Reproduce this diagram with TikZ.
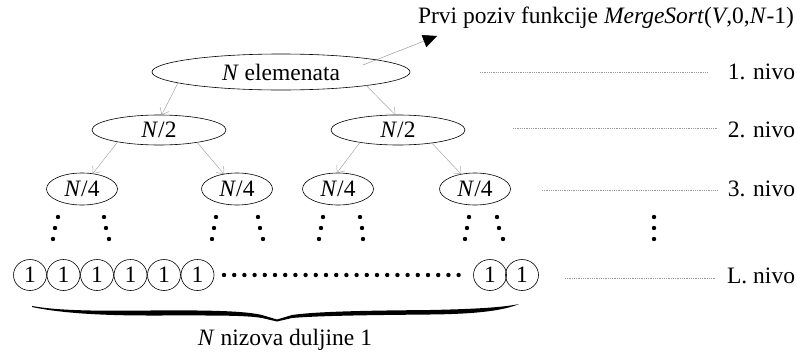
\documentclass[tikz,border=0pt]{standalone}
\usepackage{fontspec}
\setmainfont{Liberation Serif}
\usetikzlibrary{shapes.geometric,arrows.meta}

\begin{document}
\begin{tikzpicture}[x=1pt,y=-1pt,
  every node/.style={font=\fontsize{23.5}{28}\selectfont, inner sep=0pt, outer sep=0pt},
  blob/.style={ellipse, draw=black, line width=0.6pt},
  bigblob/.style={blob, minimum width=258pt, minimum height=36pt},
  halfblob/.style={blob, minimum width=134pt, minimum height=30pt},
  quarterblob/.style={blob, minimum width=71pt, minimum height=32pt},
  leaf/.style={blob, minimum width=33pt, minimum height=31pt},
  split/.style={draw=black!35, line width=0.5pt,
    -{Straight Barb[length=6pt,width=10pt,line width=0.5pt]}},
  levelline/.style={draw=black!40, line width=0.5pt, dash pattern=on 1pt off 0.8pt},
  level/.style={anchor=east},
  dot/.style={fill=black}
]
\useasboundingbox (0,0) rectangle (797,351);

% caption and call arrow
\node[anchor=base west] (call) at (418,23)
  {Prvi poziv funkcije \textit{MergeSort}(\textit{V},0,\textit{N}-1)};
\coordinate (callsrc) at (363,65);
\coordinate (calltip) at (437,36);
\draw[draw=black!40, line width=0.5pt,
  -{Triangle[length=14pt,width=13pt,color=black,fill=black]}]
  (callsrc) -- (calltip);

% recursion tree
\node[bigblob] (top) at (281,72) {\textit{N} elemenata};
\node[halfblob] (n2a) at (159,130) {\textit{N}/2};
\node[halfblob] (n2b) at (398,130) {\textit{N}/2};
\node[quarterblob] (n3a) at (82,189) {\textit{N}/4};
\node[quarterblob] (n3b) at (237,189) {\textit{N}/4};
\node[quarterblob] (n3c) at (338,189) {\textit{N}/4};
\node[quarterblob] (n3d) at (475,189) {\textit{N}/4};

\draw[split] (top.186.6) -- (n2a.80);
\draw[split] (top.351.3) -- (n2b.100);
\draw[split] (n2a.196) -- (n3a.55);
\draw[split] (n2a.342) -- (n3b.131);
\draw[split] (n2b.198) -- (n3c.94);
\draw[split] (n2b.339) -- (n3d.133);

% vertical ellipsis dots under each subarray
\foreach \a/\b/\c in {58/55/53, 104/106/109, 216/214/212, 258/260/263,
                      323/321/319, 360/362/363, 469/467/465, 497/499/503,
                      654/654/654}{
  \fill[dot] (\a,217) circle (2.2);
  \fill[dot] (\b,228) circle (2.2);
  \fill[dot] (\c,239) circle (2.2);
}

% bottom level: subarrays of length one
\foreach \x [count=\i] in {30,63.5,97,130.5,164,197.5,490,522}{
  \node[leaf] (leaf\i) at (\x,275) {1};
}
\foreach \k in {0,...,23}{
  \fill[dot] (224+\k*10.2,275) circle (2.2);
}

% brace under the bottom level
\fill[black]
  (32,306) .. controls (60,311) and (100,311) .. (150,310.5)
  .. controls (210,310) and (245,311) .. (262,315) -- (277,319.5)
  -- (292,315) .. controls (320,311) and (380,310.5) .. (430,310)
  .. controls (480,309) and (505,307) .. (519,304)
  .. controls (505,310) and (480,314) .. (430,314.5)
  .. controls (380,315) and (320,315.5) .. (292,318) -- (277,321.5)
  -- (262,318) .. controls (245,315) and (210,315.5) .. (150,315.5)
  .. controls (100,315.5) and (60,313) .. (32,307) -- cycle;
\node[anchor=base] (count) at (285,345) {\textit{N} nizova duljine 1};

% level labels
\node[level] (lvl1) at (795,72) {1. nivo};
\node[level] (lvl2) at (795,130) {2. nivo};
\node[level] (lvl3) at (795,189) {3. nivo};
\node[level] (lvlL) at (795,276) {L. nivo};
\coordinate (g1) at (480,72);
\coordinate (g2) at (513,128);
\coordinate (g3) at (542,190);
\coordinate (gL) at (565,278);
\draw[levelline] (g1) -- (g1 -| 708,0);
\draw[levelline] (g2) -- (g2 -| 717,0);
\draw[levelline] (g3) -- (g3 -| 717,0);
\draw[levelline] (gL) -- (gL -| 715,0);
\end{tikzpicture}
\end{document}
